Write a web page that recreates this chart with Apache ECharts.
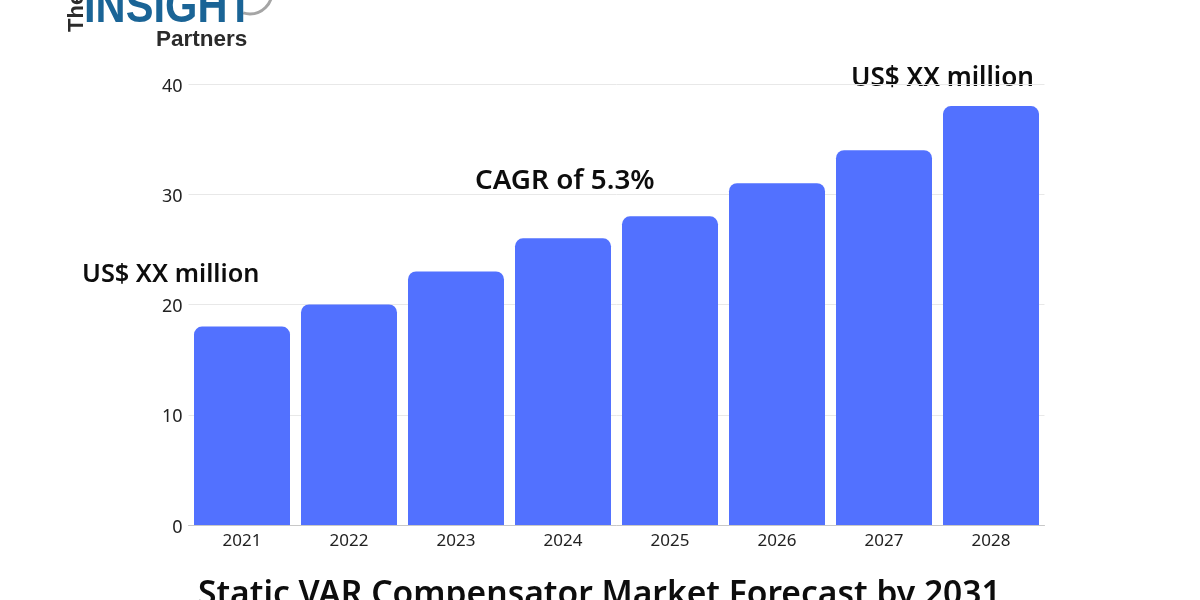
<!DOCTYPE html>
<html>
<head>
    <meta charset="utf-8">
    <title>Static VAR Compensator Market Forecast</title>
    <script src="https://cdn.jsdelivr.net/npm/echarts@6/dist/echarts.min.js"></script>
    <style>
        html, body { margin: 0; padding: 0; background: #fff; overflow: hidden; }
    </style>
</head>
<body>
    <div id="container" style="width:1200px;height:600px;"></div>
    <script type="text/javascript">
        var years = ['2021', '2022', '2023', '2024', '2025', '2026', '2027', '2028'];
        var marketValues = [18, 20, 23, 26, 28, 31, 34, 38];
        var yTicks = [0, 10, 20, 30, 40];

        var chartTitle = 'Static VAR Compensator Market Forecast by 2031';
        var startLabel = 'US$ XX million';
        var endLabel = 'US$ XX million';
        var cagrLabel = 'CAGR of 5.3%';

        var fontName = '"Noto Sans", sans-serif';
        var myChart = echarts.init(document.getElementById('container'));

        function note(text, x, y, size) {
            return {
                type: 'text',
                left: x,
                top: y,
                style: { text: text, fill: '#0d0d0d', font: '600 ' + size + 'px ' + fontName }
            };
        }

        var option = {
            animation: false,
            backgroundColor: '#fff',
            grid: { left: 188.5, right: 155.5, top: 84, bottom: 75 },
            xAxis: {
                type: 'category',
                data: years,
                axisTick: { show: false },
                axisLine: { lineStyle: { color: '#c8c8c8', width: 1 } },
                axisLabel: { color: '#222', fontFamily: fontName, fontSize: 17, margin: 8 }
            },
            yAxis: {
                type: 'value',
                min: yTicks[0],
                max: yTicks[yTicks.length - 1],
                interval: yTicks[1] - yTicks[0],
                axisLine: { show: false },
                axisTick: { show: false },
                // top-aligned with a short line box: sits the digits just under each grid line
                axisLabel: { color: '#222', fontFamily: fontName, fontSize: 18, margin: 6, verticalAlign: 'top', lineHeight: 5 },
                splitLine: { lineStyle: { color: '#e8e8e8', width: 1 } }
            },
            series: [{
                type: 'bar',
                data: marketValues,
                barWidth: 96,
                itemStyle: { color: '#5271ff', borderRadius: [8, 8, 0, 0] }
            }],
            graphic: [
                note(startLabel, 82, 262, 25.3),
                note(cagrLabel, 475, 167, 27.8),
                note(endLabel, 851, 66, 26.1),
                note(chartTitle, 198, 578, 33.6),
                // logo
                { type: 'arc', shape: { cx: 250, cy: -8, r: 22, startAngle: 0, endAngle: Math.PI * 0.6 }, style: { stroke: '#a5a5a5', lineWidth: 3, fill: null } },
                { type: 'text', x: 84, y: -16, scaleX: 0.85, style: { text: 'INSIGHT', fill: '#1a6496', font: '700 49px "Liberation Sans", sans-serif' } },
                { type: 'text', left: 156, top: 28, style: { text: 'Partners', fill: '#2b2b2b', font: '600 22.5px "Liberation Sans", sans-serif' } },
                { type: 'text', x: 66, y: 32, rotation: Math.PI / 2, style: { text: 'The', fill: '#2b2b2b', font: '600 22px "Liberation Sans", sans-serif' } }
            ]
        };

        myChart.setOption(option);
    </script>
</body>
</html>
